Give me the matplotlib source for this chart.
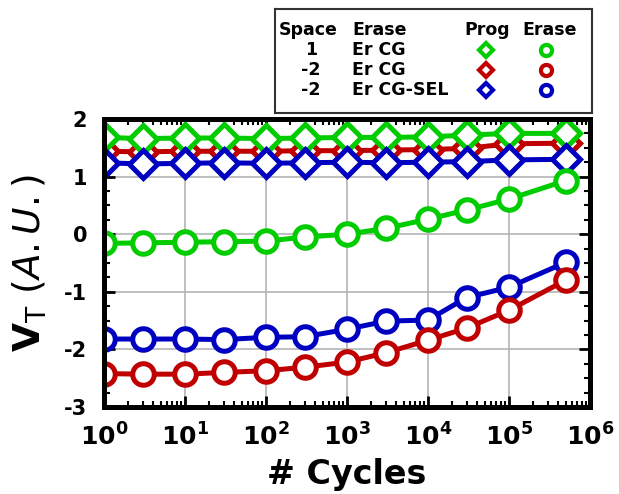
import matplotlib
matplotlib.use("Agg")
import matplotlib.pyplot as plt
from matplotlib.ticker import MultipleLocator, LogLocator, NullFormatter

GREEN, RED, BLUE = "#00CC00", "#C00000", "#0000C0"

cycles = [1, 3, 10, 30, 100, 300, 1e3, 3e3, 1e4, 3e4, 1e5, 5e5]

# programmed state (diamonds)
prog_s1_cg = [1.68, 1.66, 1.67, 1.67, 1.66, 1.67, 1.68, 1.68, 1.69, 1.72, 1.75, 1.75]
prog_s2_cg = [1.44, 1.43, 1.44, 1.44, 1.44, 1.45, 1.45, 1.46, 1.47, 1.49, 1.57, 1.58]
prog_s2_sel = [1.24, 1.22, 1.23, 1.24, 1.23, 1.24, 1.25, 1.24, 1.25, 1.26, 1.29, 1.30]

# erased state (circles)
erase_s1_cg = [-0.16, -0.15, -0.14, -0.13, -0.12, -0.05, 0.0, 0.10, 0.26, 0.42, 0.61, 0.93]
erase_s2_cg = [-2.42, -2.43, -2.43, -2.40, -2.37, -2.31, -2.22, -2.06, -1.84, -1.63, -1.32, -0.80]
erase_s2_sel = [-1.82, -1.82, -1.82, -1.83, -1.79, -1.78, -1.65, -1.51, -1.49, -1.10, -0.92, -0.49]

legend_rows = [("1", "Er CG", GREEN), ("-2", "Er CG", RED), ("-2", "Er CG-SEL", BLUE)]

plt.rcParams.update({
    "font.family": "DejaVu Sans",
    "axes.unicode_minus": False,
    "mathtext.fontset": "custom",
    "mathtext.rm": "DejaVu Sans",
    "mathtext.it": "DejaVu Sans:italic",
    "mathtext.bf": "DejaVu Sans:bold",
})

fig = plt.figure(figsize=(6.19, 4.94), dpi=100)
ax = fig.add_axes([104 / 619, 1 - 407 / 494, 486 / 619, 288 / 494])

line_kw = dict(lw=3.6, mew=3.6, mfc="white")
ax.plot(cycles, prog_s2_cg, color=RED, marker="D", ms=14, **line_kw)
ax.plot(cycles, prog_s1_cg, color=GREEN, marker="D", ms=14, **line_kw)
ax.plot(cycles, prog_s2_sel, color=BLUE, marker="D", ms=14, **line_kw)
ax.plot(cycles, erase_s1_cg, color=GREEN, marker="o", ms=15.5, **line_kw)
ax.plot(cycles, erase_s2_sel, color=BLUE, marker="o", ms=15.5, **line_kw)
ax.plot(cycles, erase_s2_cg, color=RED, marker="o", ms=15.5, **line_kw)

ax.set_xscale("log")
ax.set_xlim(1, 1e6)
ax.set_ylim(-3, 2)
ax.xaxis.set_major_locator(LogLocator(base=10, numticks=10))
ax.xaxis.set_minor_locator(LogLocator(base=10, subs=range(2, 10), numticks=10))
ax.xaxis.set_minor_formatter(NullFormatter())
ax.yaxis.set_major_locator(MultipleLocator(1))
ax.yaxis.set_minor_locator(MultipleLocator(0.25))
ax.grid(True, which="major", color="#B4B4B4", lw=1.2)
ax.set_axisbelow(True)
for s in ax.spines.values():
    s.set_linewidth(3.6)
ax.tick_params(which="both", direction="in", top=True, right=True)
ax.tick_params(which="major", length=8, width=2)
ax.tick_params(which="minor", length=4, width=1.5)
ax.tick_params(axis="y", labelsize=15, pad=12)
ax.tick_params(axis="x", labelsize=18, pad=12)
for lab in ax.get_xticklabels() + ax.get_yticklabels():
    lab.set_fontweight("bold")

ax.set_xlabel("# Cycles", fontsize=24, fontweight="bold", labelpad=5)
ax.set_ylabel(r"$\mathbf{V}_\mathrm{T}$ ($\mathit{A.U.}$)",
              fontsize=27, fontweight="normal", labelpad=11)

# table-style legend box
lg = fig.add_axes([275 / 619, 1 - 113 / 494, 317 / 619, 104 / 494])
lg.set_xlim(0, 317)
lg.set_ylim(104, 0)
lg.set_xticks([])
lg.set_yticks([])
for s in lg.spines.values():
    s.set_linewidth(1.5)
    s.set_color("#333333")
fs = 12.5
lg.text(4, 21, "Space", fontsize=fs, fontweight="bold", va="center")
lg.text(77, 21, "Erase", fontsize=fs, fontweight="bold", va="center")
lg.text(189, 21, "Prog", fontsize=fs, fontweight="bold", va="center")
lg.text(247, 21, "Erase", fontsize=fs, fontweight="bold", va="center")
for i, (space, erase, col) in enumerate(legend_rows):
    y = 41 + 20 * i
    lg.text(36, y, space, fontsize=fs, fontweight="bold", va="center", ha="center")
    lg.text(77, y, erase, fontsize=fs, fontweight="bold", va="center")
    lg.plot([211], [y], marker="D", ms=7.5, mew=3, mfc="white", color=col)
    lg.plot([271], [y], marker="o", ms=8, mew=3, mfc="white", color=col)

fig.savefig("out.png", dpi=100)
